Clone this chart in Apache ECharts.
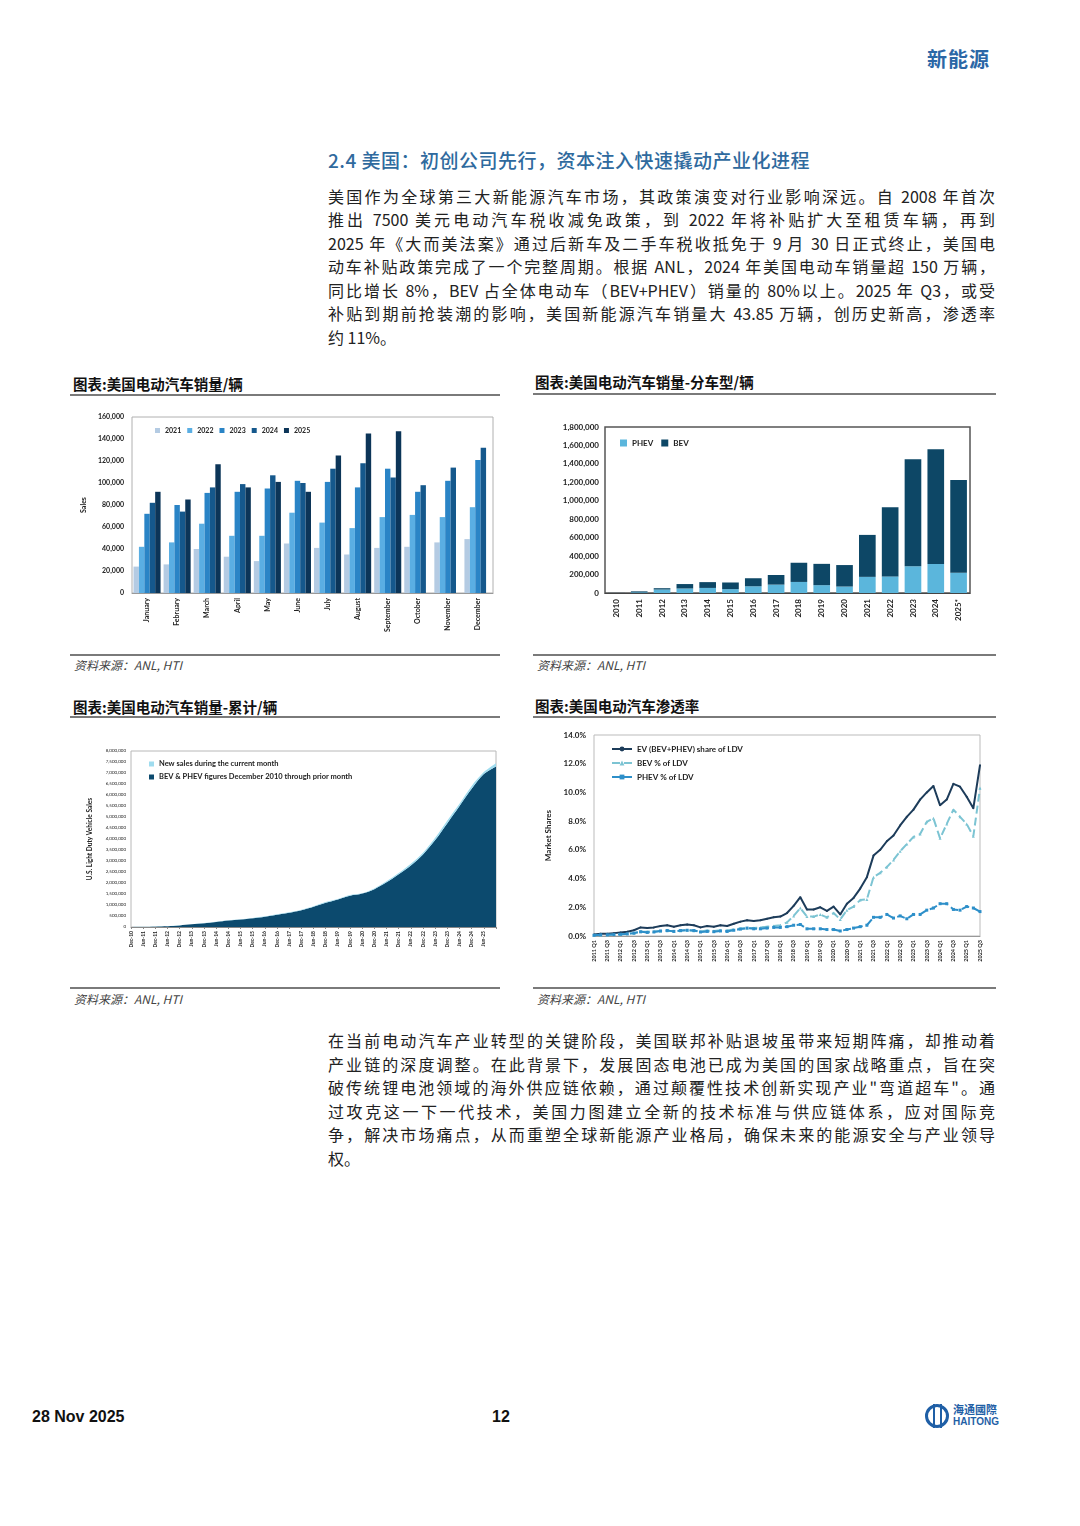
<!DOCTYPE html>
<html><head><meta charset="utf-8">
<script src="https://cdn.jsdelivr.net/npm/echarts@6/dist/echarts.min.js"></script>
<style>
html,body{margin:0;padding:0;background:#fff;width:1080px;height:1526px;overflow:hidden;font-family:"Noto Sans CJK SC","Noto Sans",sans-serif;}
.abs{position:absolute;}
.hdr{left:927px;top:44px;font-size:20px;font-weight:bold;color:#2b67a6;letter-spacing:1px;}
.sec{left:328px;top:146px;font-size:19px;color:#2f6a9e;font-weight:500;letter-spacing:0.5px;}
.pl{position:absolute;left:328px;width:667px;font-size:16px;line-height:22px;color:#222;text-align:justify;text-align-last:justify;white-space:nowrap;}
.pl.last{text-align-last:left;}
.ct{position:absolute;font-size:14.5px;font-weight:bold;color:#111;}
.rule{position:absolute;height:2px;background:#7a7a7a;}
.src{position:absolute;font-size:12px;font-style:italic;color:#444;}
.chart{position:absolute;}
.foot{position:absolute;font-family:"Liberation Sans Narrow","Liberation Sans",sans-serif;font-weight:bold;font-size:16px;color:#111;}
</style></head>
<body>
<div class="abs hdr">新能源</div>
<div class="abs sec">2.4 美国：初创公司先行，资本注入快速撬动产业化进程</div>

<div class="pl" style="top:185px">美国作为全球第三大新能源汽车市场，其政策演变对行业影响深远。自 2008 年首次</div>
<div class="pl" style="top:208px">推出 7500 美元电动汽车税收减免政策，到 2022 年将补贴扩大至租赁车辆，再到</div>
<div class="pl" style="top:232px">2025 年《大而美法案》通过后新车及二手车税收抵免于 9 月 30 日正式终止，美国电</div>
<div class="pl" style="top:255px">动车补贴政策完成了一个完整周期。根据 ANL，2024 年美国电动车销量超 150 万辆，</div>
<div class="pl" style="top:279px">同比增长 8%，BEV 占全体电动车（BEV+PHEV）销量的 80%以上。2025 年 Q3，或受</div>
<div class="pl" style="top:302px">补贴到期前抢装潮的影响，美国新能源汽车销量大 43.85 万辆，创历史新高，渗透率</div>
<div class="pl last" style="top:326px">约 11%。</div>

<div class="ct" style="left:73px;top:373px">图表:美国电动汽车销量/辆</div>
<div class="rule" style="left:70px;top:394px;width:430px"></div>
<div class="ct" style="left:535px;top:371px">图表:美国电动汽车销量-分车型/辆</div>
<div class="rule" style="left:533px;top:393px;width:463px"></div>
<div class="rule" style="left:70px;top:654px;width:430px;height:1.5px"></div>
<div class="rule" style="left:533px;top:654px;width:463px;height:1.5px"></div>
<div class="src" style="left:74px;top:656px">资料来源：ANL, HTI</div>
<div class="src" style="left:537px;top:656px">资料来源：ANL, HTI</div>

<div class="ct" style="left:73px;top:696px">图表:美国电动汽车销量-累计/辆</div>
<div class="rule" style="left:70px;top:716px;width:430px"></div>
<div class="ct" style="left:535px;top:695px">图表:美国电动汽车渗透率</div>
<div class="rule" style="left:533px;top:716px;width:463px"></div>
<div class="rule" style="left:70px;top:987px;width:430px;height:1.5px"></div>
<div class="rule" style="left:533px;top:987px;width:463px;height:1.5px"></div>
<div class="src" style="left:74px;top:990px">资料来源：ANL, HTI</div>
<div class="src" style="left:537px;top:990px">资料来源：ANL, HTI</div>

<div class="pl" style="top:1029px">在当前电动汽车产业转型的关键阶段，美国联邦补贴退坡虽带来短期阵痛，却推动着</div>
<div class="pl" style="top:1053px">产业链的深度调整。在此背景下，发展固态电池已成为美国的国家战略重点，旨在突</div>
<div class="pl" style="top:1076px">破传统锂电池领域的海外供应链依赖，通过颠覆性技术创新实现产业"弯道超车"。通</div>
<div class="pl" style="top:1100px">过攻克这一下一代技术，美国力图建立全新的技术标准与供应链体系，应对国际竞</div>
<div class="pl" style="top:1123px">争，解决市场痛点，从而重塑全球新能源产业格局，确保未来的能源安全与产业领导</div>
<div class="pl last" style="top:1147px">权。</div>

<div class="foot" style="left:32px;top:1408px">28 Nov 2025</div>
<div class="foot" style="left:492px;top:1408px">12</div>
<div class="abs" style="left:925px;top:1404px;width:24px;height:24px;border-radius:50%;border:3px solid #1f5fa6;box-sizing:border-box;"></div>
<div class="abs" style="left:933px;top:1404px;width:2px;height:24px;background:#1f5fa6;"></div>
<div class="abs" style="left:940px;top:1404px;width:2px;height:24px;background:#1f5fa6;"></div>
<div class="abs" style="left:953px;top:1403px;font-size:11px;line-height:12px;color:#1f5fa6;font-weight:bold;">海通國際</div>
<div class="abs" style="left:953px;top:1416px;font-size:10px;line-height:12px;color:#1f5fa6;font-weight:bold;font-family:'Liberation Sans',sans-serif;">HAITONG</div>

<div id="c1" class="chart" style="left:70px;top:400px;width:430px;height:250px"></div>
<div id="c2" class="chart" style="left:530px;top:400px;width:470px;height:235px"></div>
<div id="c3" class="chart" style="left:70px;top:735px;width:430px;height:225px"></div>
<div id="c4" class="chart" style="left:530px;top:720px;width:470px;height:255px"></div>

<script>
// ---------- Chart 1: monthly sales ----------
const months = ['January','February','March','April','May','June','July','August','September','October','November','December'];
const sales2021 = [24000,26000,40000,33000,29000,45000,41000,35000,41000,42000,46000,49000];
const sales2022 = [42000,46000,63000,52000,52000,73000,64000,59000,69000,71000,69000,78000];
const sales2023 = [72000,80000,91000,92000,95000,102000,101000,96000,113000,92000,102000,121000];
const sales2024 = [82000,74000,96000,99000,107000,100000,113000,118000,105000,98000,114000,132000];
const sales2025 = [92000,85000,117000,96000,101000,92000,125000,145000,147000,null,null,null];

// ---------- Chart 2: annual sales by type ----------
const years2 = ['2010','2011','2012','2013','2014','2015','2016','2017','2018','2019','2020','2021','2022','2023','2024','2025*'];
const phev = [300,7700,38000,49000,55000,42000,73000,91000,120000,85000,70000,175000,180000,290000,315000,220000];
const bev = [1000,10000,14000,48000,63000,72000,87000,104000,208000,231000,233000,455000,750000,1160000,1245000,1005000];

// ---------- Chart 3: cumulative ----------
const cumLabels = ['Dec-10','Jun-11','Dec-11','Jun-12','Dec-12','Jun-13','Dec-13','Jun-14','Dec-14','Jun-15','Dec-15','Jun-16','Dec-16','Jun-17','Dec-17','Jun-18','Dec-18','Jun-19','Dec-19','Jun-20','Dec-20','Jun-21','Dec-21','Jun-22','Dec-22','Jun-23','Dec-23','Jun-24','Dec-24','Jun-25','Aug-25'];
const cumPrior = [0,5000,17000,35000,70000,120000,170000,230000,290000,340000,400000,470000,560000,650000,760000,920000,1100000,1250000,1420000,1520000,1720000,2030000,2400000,2800000,3300000,3950000,4720000,5500000,6280000,6950000,7300000];
const cumNew = [350,1700,2500,5000,9000,8000,10000,11000,12000,10000,14000,13000,23000,17000,27000,27000,37000,26000,33000,15000,35000,45000,49000,73000,78000,102000,121000,100000,132000,92000,145000];

// ---------- Chart 4: market share ----------
const shareYears = ['2011','2012','2013','2014','2015','2016','2017','2018','2019','2020','2021','2022','2023','2024','2025'];
const quarters = ['Q1','Q2','Q3','Q4'];
const evShare = [0.10,0.15,0.15,0.20, 0.25,0.30,0.40,0.60, 0.55,0.60,0.70,0.75, 0.65,0.75,0.80,0.75, 0.60,0.70,0.65,0.75, 0.70,0.85,1.00,1.10, 1.05,1.10,1.20,1.30, 1.35,1.60,2.10,2.70, 1.85,1.85,2.00,1.75, 2.05,1.50,2.25,2.65, 3.30,4.10,5.60,6.00, 6.60,7.00,7.70,8.30, 8.80,9.50,10.00,10.45, 9.10,9.50,10.60,10.40, 9.70,8.90,11.90];
const bevShare = [0.05,0.07,0.07,0.10, 0.13,0.15,0.20,0.30, 0.30,0.32,0.35,0.37, 0.33,0.37,0.40,0.37, 0.32,0.38,0.35,0.40, 0.38,0.45,0.52,0.55, 0.55,0.60,0.65,0.70, 0.75,0.95,1.40,1.95, 1.35,1.35,1.50,1.30, 1.60,1.15,1.80,2.05, 2.50,2.55,4.10,4.40, 4.80,5.30,5.90,6.40, 6.90,7.10,7.95,8.20, 6.80,7.80,8.80,8.30, 7.80,6.95,10.30];
const phevShare = [0.05,0.08,0.08,0.10, 0.12,0.15,0.20,0.30, 0.25,0.28,0.35,0.38, 0.32,0.38,0.40,0.38, 0.28,0.32,0.30,0.35, 0.32,0.40,0.48,0.55, 0.50,0.50,0.55,0.60, 0.60,0.65,0.75,0.80, 0.50,0.50,0.50,0.45, 0.45,0.35,0.45,0.55, 0.65,0.75,1.30,1.30, 1.50,1.25,1.40,1.20, 1.50,1.50,1.80,1.95, 2.25,2.25,1.85,1.80, 2.05,1.95,1.70];

const quarterLabels = [];
shareYears.forEach(y => quarters.forEach(q => quarterLabels.push(y + ' ' + q)));
quarterLabels.length = evShare.length;

const FONT = 'Lato, "Open Sans", sans-serif';
const fmt = v => v.toLocaleString('en-US');

// Chart 1
echarts.init(document.getElementById('c1')).setOption({
  animation:false,
  textStyle:{fontFamily:FONT},
  color:['#b4cbe3','#5aaee3','#2a84c6','#15588c','#0c3558'],
  legend:{left:80,top:22,itemWidth:5,itemHeight:5,itemGap:6,icon:'rect',textStyle:{fontSize:7,fontWeight:'bold',color:'#222'}},
  grid:{left:62,right:7,top:17,bottom:57,show:true,borderColor:'#b0b0b0',borderWidth:1},
  xAxis:{type:'category',data:months,axisTick:{show:false},axisLine:{lineStyle:{color:'#999'}},
    axisLabel:{rotate:90,fontSize:7,fontWeight:'bold',color:'#222',margin:5}},
  yAxis:{type:'value',min:0,max:160000,interval:20000,name:'Sales',nameLocation:'middle',nameGap:42,nameRotate:90,
    nameTextStyle:{fontSize:7,fontWeight:'bold',color:'#222'},splitLine:{show:false},axisLine:{show:false},
    axisLabel:{fontSize:7,fontWeight:'bold',color:'#222',formatter:fmt}},
  series:[
    {name:'2021',type:'bar',data:sales2021,barGap:'0%',barCategoryGap:'10%'},
    {name:'2022',type:'bar',data:sales2022},
    {name:'2023',type:'bar',data:sales2023},
    {name:'2024',type:'bar',data:sales2024},
    {name:'2025',type:'bar',data:sales2025}
  ]
});

// Chart 2
echarts.init(document.getElementById('c2')).setOption({
  animation:false,
  textStyle:{fontFamily:FONT},
  color:['#5bb6dc','#0d4766'],
  legend:{left:85,top:34,itemWidth:7,itemHeight:7,itemGap:8,icon:'rect',textStyle:{fontSize:8,fontWeight:'bold',color:'#222'}},
  grid:{left:75,right:30,top:27,bottom:42,show:true,borderColor:'#555',borderWidth:1.5},
  xAxis:{type:'category',data:years2,axisTick:{show:false},axisLine:{lineStyle:{color:'#444'}},
    axisLabel:{rotate:90,fontSize:8,fontWeight:'bold',color:'#222',margin:6}},
  yAxis:{type:'value',min:0,max:1800000,interval:200000,splitLine:{show:false},axisLine:{show:false},
    axisLabel:{fontSize:8,fontWeight:'bold',color:'#222',formatter:fmt,margin:6}},
  series:[
    {name:'PHEV',type:'bar',stack:'t',data:phev,barCategoryGap:'27%'},
    {name:'BEV',type:'bar',stack:'t',data:bev}
  ]
});

// Chart 3
echarts.init(document.getElementById('c3')).setOption({
  animation:false,
  textStyle:{fontFamily:FONT},
  legend:{orient:'vertical',left:74,top:20,itemWidth:5,itemHeight:5,itemGap:5,icon:'rect',
    textStyle:{fontSize:7.5,fontWeight:'bold',color:'#222'},
    data:['New sales during the current month','BEV & PHEV figures December 2010 through prior month']},
  grid:{left:61,right:4,top:16,bottom:33,show:true,borderColor:'#b8b8b8',borderWidth:1},
  xAxis:{type:'category',boundaryGap:false,data:cumLabels,axisTick:{show:true,length:2,interval:0},axisLine:{lineStyle:{color:'#888'}},
    axisLabel:{rotate:90,fontSize:5,fontWeight:'bold',color:'#222',margin:4,interval:(i)=>i<30}},
  yAxis:{type:'value',min:0,max:8000000,interval:500000,name:'U.S. Light Duty Vehicle Sales',nameLocation:'middle',nameGap:38,nameRotate:90,
    nameTextStyle:{fontSize:6.5,fontWeight:'bold',color:'#222'},splitLine:{show:false},axisLine:{show:false},
    axisLabel:{fontSize:4.5,color:'#222',formatter:fmt,margin:5}},
  series:[
    {name:'BEV & PHEV figures December 2010 through prior month',type:'line',stack:'c',data:cumPrior,symbol:'none',smooth:0.3,
      lineStyle:{width:0},areaStyle:{color:'#0c4a6e',opacity:1},itemStyle:{color:'#0c4a6e'}},
    {name:'New sales during the current month',type:'line',stack:'c',data:cumNew,symbol:'none',smooth:0.3,
      lineStyle:{width:0},areaStyle:{color:'#9fdcef',opacity:1},itemStyle:{color:'#9fdcef'}}
  ]
});

// Chart 4
echarts.init(document.getElementById('c4')).setOption({
  animation:false,
  textStyle:{fontFamily:FONT},
  legend:{orient:'vertical',left:76,top:20,itemWidth:20,itemHeight:6,itemGap:6,
    textStyle:{fontSize:8,fontWeight:'bold',color:'#222'}},
  grid:{left:64,right:20,top:15,bottom:39,show:true,borderColor:'#bbb',borderWidth:1},
  xAxis:{type:'category',boundaryGap:false,data:quarterLabels,axisTick:{show:false},axisLine:{lineStyle:{color:'#999'}},
    axisLabel:{rotate:90,fontSize:5.5,fontWeight:'bold',color:'#222',margin:4,interval:1}},
  yAxis:{type:'value',min:0,max:14,interval:2,name:'Market Shares',nameLocation:'middle',nameGap:40,nameRotate:90,
    nameTextStyle:{fontSize:8,fontWeight:'bold',color:'#222'},splitLine:{show:false},axisLine:{show:false},
    axisLabel:{fontSize:8,fontWeight:'bold',color:'#222',formatter:v=>v.toFixed(1)+'%'}},
  series:[
    {name:'EV (BEV+PHEV) share of LDV',type:'line',data:evShare,symbol:'circle',symbolSize:2,
      lineStyle:{width:2,color:'#1d3c5a'},itemStyle:{color:'#1d3c5a'}},
    {name:'BEV % of LDV',type:'line',data:bevShare,symbol:'triangle',symbolSize:3,
      lineStyle:{width:2,color:'#7cc4d3',type:'dashed'},itemStyle:{color:'#7cc4d3'}},
    {name:'PHEV % of LDV',type:'line',data:phevShare,symbol:'rect',symbolSize:3,
      lineStyle:{width:2,color:'#2d8fc9',type:'dashed'},itemStyle:{color:'#2d8fc9'}}
  ]
});
</script>
</body></html>
